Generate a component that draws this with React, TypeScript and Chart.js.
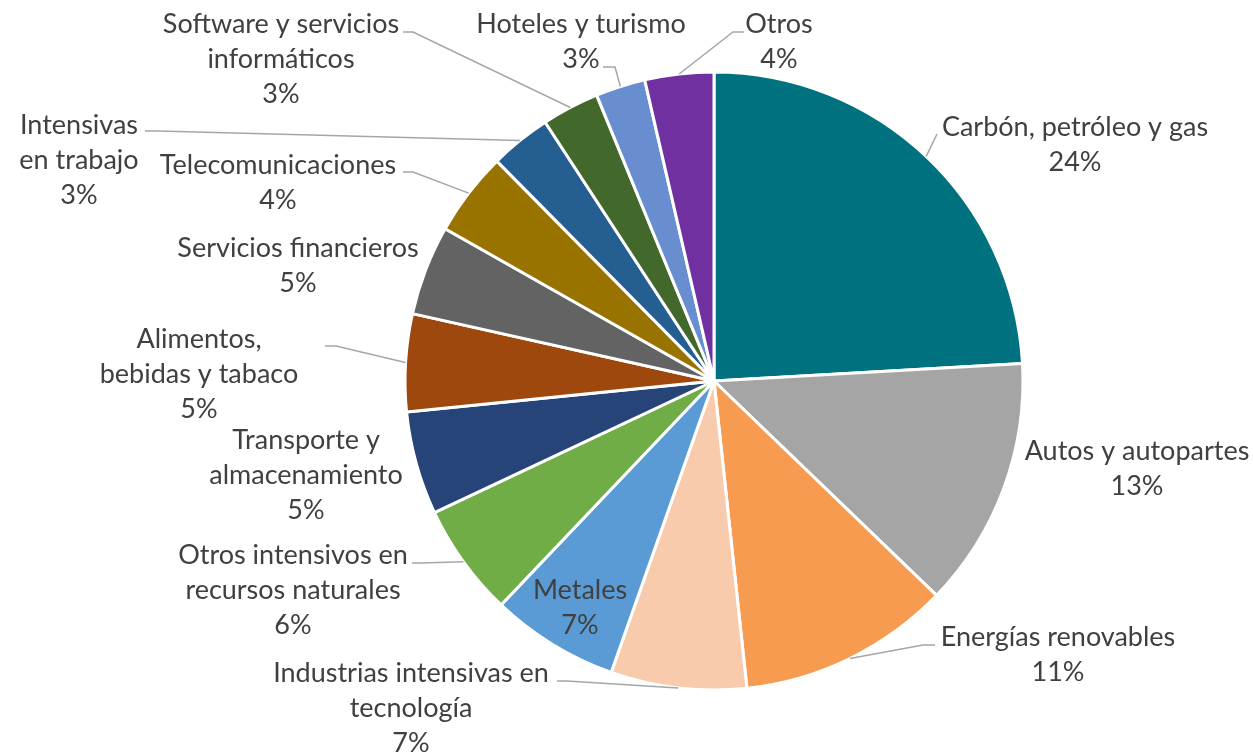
import React, { useEffect, useRef } from "react";
import { Chart, registerables } from "chart.js";

Chart.register(...registerables);

// ---- Data ----
const CATEGORIES: string[] = [
  "Carbón, petróleo y gas",
  "Autos y autopartes",
  "Energías renovables",
  "Industrias intensivas en tecnología",
  "Metales",
  "Otros intensivos en recursos naturales",
  "Transporte y almacenamiento",
  "Alimentos, bebidas y tabaco",
  "Servicios financieros",
  "Telecomunicaciones",
  "Intensivas en trabajo",
  "Software y servicios informáticos",
  "Hoteles y turismo",
  "Otros",
];

const VALUES: number[] = [24.1, 13.1, 11.1, 7.1, 6.7, 5.9, 5.4, 5.1, 4.7, 4.4, 3.2, 3.0, 2.6, 3.6];

const COLORS: string[] = [
  "#00717F",
  "#A5A5A5",
  "#F79B51",
  "#F8CBAD",
  "#5B9BD5",
  "#70AD47",
  "#264478",
  "#9E480E",
  "#636363",
  "#997300",
  "#255E91",
  "#43682B",
  "#698ED0",
  "#7030A0",
];

// ---- Label layout (text wrapping, label centres, leader-line start points) ----
type Layout = { lines: string[]; x: number; y: number; leader?: number[][] };
const LABEL_LAYOUT: Layout[] = [
  { lines: ["Carbón, petróleo y gas"], x: 1075, y: 127, leader: [[937, 134]] },
  { lines: ["Autos y autopartes"], x: 1137, y: 451 },
  { lines: ["Energías renovables"], x: 1058, y: 637, leader: [[935, 645], [923, 645]] },
  { lines: ["Industrias intensivas en", "tecnología"], x: 411, y: 673, leader: [[557, 681], [567, 681]] },
  { lines: ["Metales"], x: 580, y: 590 },
  { lines: ["Otros intensivos en", "recursos naturales"], x: 293, y: 555, leader: [[412, 563], [421, 563]] },
  { lines: ["Transporte y", "almacenamiento"], x: 306, y: 440 },
  { lines: ["Alimentos,", "bebidas y tabaco"], x: 199, y: 339, leader: [[325, 346], [336, 346]] },
  { lines: ["Servicios financieros"], x: 298, y: 248 },
  { lines: ["Telecomunicaciones"], x: 278, y: 165, leader: [[403, 172], [413, 172]] },
  { lines: ["Intensivas", "en trabajo"], x: 79, y: 125, leader: [[145, 131], [158, 131]] },
  { lines: ["Software y servicios", "informáticos"], x: 281, y: 24, leader: [[403, 32], [413, 32]] },
  { lines: ["Hoteles y turismo"], x: 581, y: 24, leader: [[603, 67], [615, 67]] },
  { lines: ["Otros"], x: 779, y: 24, leader: [[744, 32], [733, 32]] },
];

const FONT_SIZE = 27;
const LINE_H = 35;
const BASELINE_SHIFT = 9;
const TEXT_COLOR = "#404040";
const LEADER_COLOR = "#A6A6A6";

const labelPlugin = {
  id: "outerLabels",
  afterDatasetsDraw(chart: any) {
    const ctx: CanvasRenderingContext2D = chart.ctx;
    const meta = chart.getDatasetMeta(0);
    const data: number[] = chart.data.datasets[0].data;
    const total = data.reduce((a, b) => a + b, 0);
    ctx.save();
    meta.data.forEach((arc: any, i: number) => {
      const p = arc.getProps(["x", "y", "startAngle", "endAngle", "outerRadius"], true);
      const mid = (p.startAngle + p.endAngle) / 2;
      const ax = p.x + Math.cos(mid) * p.outerRadius;
      const ay = p.y + Math.sin(mid) * p.outerRadius;
      const lay = LABEL_LAYOUT[i];
      if (lay.leader) {
        ctx.beginPath();
        ctx.strokeStyle = LEADER_COLOR;
        ctx.lineWidth = 1.5;
        ctx.moveTo(lay.leader[0][0], lay.leader[0][1]);
        for (let k = 1; k < lay.leader.length; k++) ctx.lineTo(lay.leader[k][0], lay.leader[k][1]);
        ctx.lineTo(ax, ay);
        ctx.stroke();
      }
      const pct = Math.round((data[i] / total) * 100) + "%";
      const lines = [...lay.lines, pct];
      ctx.font = `${FONT_SIZE}px Lato`;
      ctx.fillStyle = TEXT_COLOR;
      ctx.textAlign = "center";
      ctx.textBaseline = "alphabetic";
      lines.forEach((t, k) => {
        ctx.fillText(t, lay.x, lay.y + k * LINE_H + BASELINE_SHIFT);
      });
    });
    ctx.restore();
  },
};

export default function App() {
  const ref = useRef<HTMLCanvasElement | null>(null);
  useEffect(() => {
    if (!ref.current) return;
    const chart = new Chart(ref.current, {
      type: "pie",
      data: {
        labels: CATEGORIES,
        datasets: [
          {
            data: VALUES,
            backgroundColor: COLORS,
            borderColor: "#FFFFFF",
            borderWidth: 3,
            hoverOffset: 0,
          },
        ],
      },
      options: {
        responsive: false,
        maintainAspectRatio: false,
        animation: false,
        radius: 309,
        layout: { padding: { left: 406, right: 231, top: 73, bottom: 67 } },
        plugins: {
          legend: { display: false },
          tooltip: { enabled: false },
          title: { display: false },
        },
      } as any,
      plugins: [labelPlugin],
    });
    return () => chart.destroy();
  }, []);
  return (
    <div style={{ position: "fixed", left: 0, top: 0, width: 1253, height: 756, background: "#fff" }}>
      <canvas ref={ref} width={1253} height={756} />
    </div>
  );
}
